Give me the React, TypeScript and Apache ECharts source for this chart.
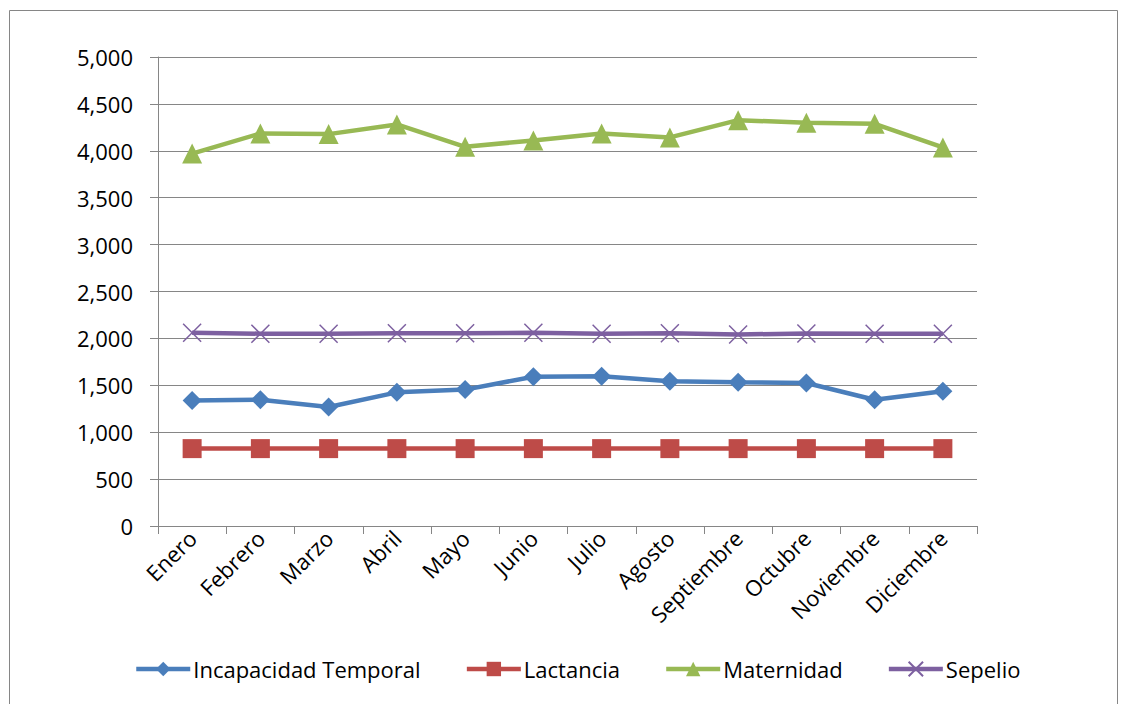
import React, { useEffect, useRef } from "react";
import * as echarts from "echarts";

const categories = ["Enero", "Febrero", "Marzo", "Abril", "Mayo", "Junio", "Julio", "Agosto", "Septiembre", "Octubre", "Noviembre", "Diciembre"];
const incapacidad = [1339, 1346, 1268, 1425, 1454, 1592, 1597, 1543, 1532, 1525, 1346, 1436];
const lactancia = [825, 825, 825, 825, 825, 825, 825, 825, 825, 825, 825, 825];
const maternidad = [3970, 4185, 4178, 4281, 4043, 4110, 4185, 4143, 4327, 4298, 4288, 4036];
const sepelio = [2060, 2050, 2050, 2055, 2055, 2060, 2050, 2055, 2042, 2052, 2050, 2050];

const FONT = "Open Sans";
const FS = 22;

export default function App() {
  const ref = useRef<HTMLDivElement>(null);
  useEffect(() => {
    document.body.style.margin = "0";
    const chart = echarts.init(ref.current!, null, { renderer: "svg" });
    const mk = (name: string, data: number[], color: string, symbol: string, size: number, extra: any = {}) => ({
      name,
      type: "line",
      data,
      symbol,
      symbolSize: size,
      showAllSymbol: true,
      lineStyle: { color, width: 4.5 },
      itemStyle: { color, ...extra },
      emphasis: { disabled: true },
    });
    chart.setOption({
      animation: false,
      textStyle: { fontFamily: FONT },
      graphic: [
        {
          type: "rect",
          shape: { x: 9.5, y: 10.5, width: 1108, height: 720 },
          style: { fill: "none", stroke: "#868686", lineWidth: 1 },
        },
      ],
      grid: { left: 158, right: 146, top: 57, bottom: 178 },
      legend: {
        left: 129,
        top: 653,
        itemWidth: 54,
        itemHeight: 18,
        itemGap: 44,
        lineStyle: { width: 4.5 },
        textStyle: { fontSize: FS, color: "#000", fontFamily: FONT, padding: [0, 0, 0, -2] },
        data: ["Incapacidad Temporal", "Lactancia", "Maternidad", "Sepelio"],
      },
      xAxis: {
        type: "category",
        data: categories,
        boundaryGap: true,
        axisLine: { lineStyle: { color: "#868686", width: 1 } },
        axisTick: { show: true, length: 8, lineStyle: { color: "#868686" }, alignWithLabel: false },
        axisLabel: { rotate: 45, fontSize: FS, color: "#000", margin: 8, interval: 0, fontFamily: FONT },
      },
      yAxis: {
        type: "value",
        min: 0,
        max: 5000,
        interval: 500,
        axisLine: { show: true, lineStyle: { color: "#868686", width: 1 } },
        axisTick: { show: true, length: 8, lineStyle: { color: "#868686" } },
        splitLine: { lineStyle: { color: "#868686", width: 1 } },
        axisLabel: {
          fontSize: FS,
          color: "#000",
          margin: 25,
          fontFamily: FONT,
          formatter: (v: number) => v.toLocaleString("en-US"),
        },
      },
      series: [
        mk("Incapacidad Temporal", incapacidad, "#4A7EBB", "diamond", 19),
        mk("Lactancia", lactancia, "#BE4B48", "rect", 19),
        mk("Maternidad", maternidad, "#98B954", "triangle", 20),
        mk("Sepelio", sepelio, "#7D60A0", "path://M0,0L10,10M10,0L0,10", 18, {
          borderColor: "#7D60A0",
          borderWidth: 1.5,
        }),
      ],
    });
    return () => chart.dispose();
  }, []);
  return <div ref={ref} style={{ width: 1123, height: 704 }} />;
}
